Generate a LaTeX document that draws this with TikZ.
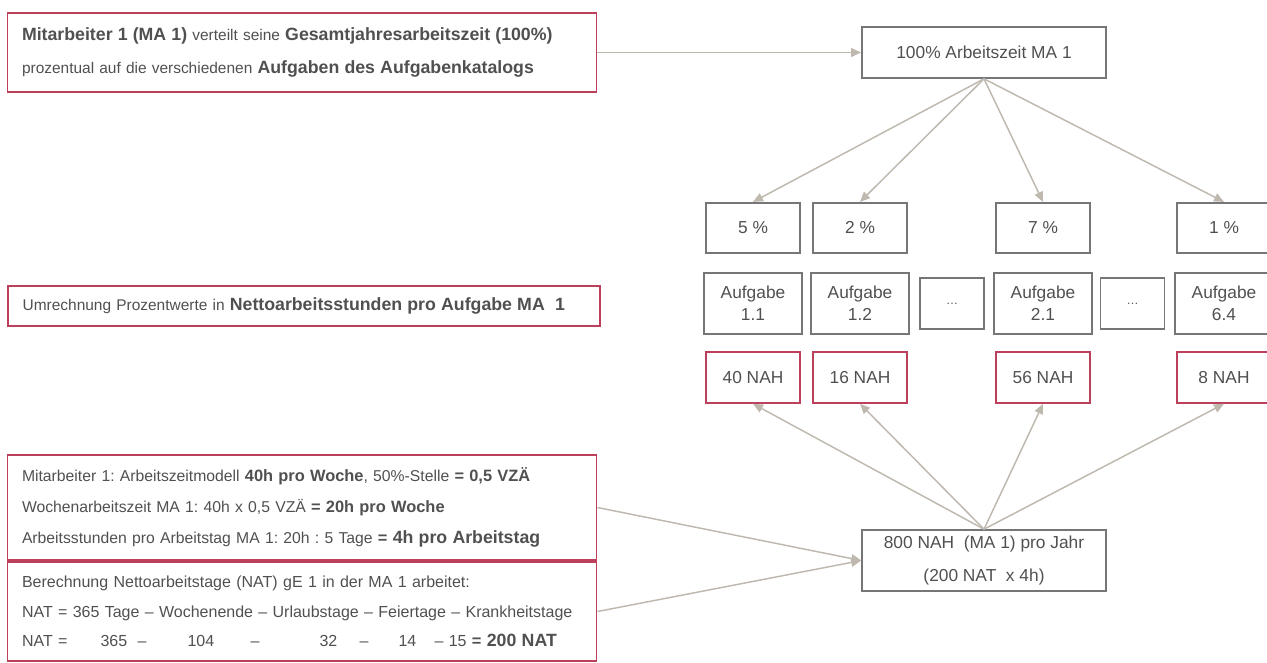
\documentclass[tikz,border=0pt]{standalone}
\usepackage{fontspec}
\setmainfont{Liberation Sans}
\usepackage{tikz}
\usetikzlibrary{arrows.meta,positioning}
\definecolor{boxred}{RGB}{188,64,92}
\definecolor{boxgray}{RGB}{118,118,118}
\definecolor{arrowgray}{RGB}{190,184,175}
\definecolor{textgray}{RGB}{80,80,80}
\newcommand{\bigbf}[1]{{\fontsize{13.3}{16}\selectfont\bfseries #1}}
\newcommand{\midbf}[1]{{\fontsize{12.3}{15}\selectfont\bfseries #1}}
\newcommand{\natcol}[2]{\makebox[#1][l]{#2}}
\frenchspacing

\begin{document}
\begin{tikzpicture}[
    x=0.75pt, y=-0.75pt,
    info/.style={draw=boxred, line width=1.2pt, text=textgray, align=left, inner xsep=11pt, text width=420pt},
    cell/.style={draw=boxgray, line width=1.2pt, text=textgray, font=\fontsize{13}{16.5}\selectfont, align=center, inner sep=0pt},
    nah/.style={cell, draw=boxred},
    link/.style={draw=arrowgray, line width=1.1pt, -{Triangle[length=7.5pt,width=6.5pt]}}
  ]
    \useasboundingbox (0,0) rectangle (1267,662);

    % left column
    \node[info, minimum height=59pt, font=\fontsize{11.6}{24.75}\selectfont] (verteilung) at (302,52.5)
      {\bigbf{Mitarbeiter 1 (MA 1)} verteilt seine \bigbf{Gesamtjahresarbeitszeit (100\%)}\\
       prozentual auf die verschiedenen \bigbf{Aufgaben des Aufgabenkatalogs}};
    \node[info, text width=422pt, minimum height=30pt, font=\fontsize{11.6}{14}\selectfont] (umrechnung) at (304,306)
      {Umrechnung Prozentwerte in \bigbf{Nettoarbeitsstunden pro Aufgabe MA\ \ 1}};
    \node[info, minimum height=78.75pt, font=\fontsize{11.8}{23.25}\selectfont] (modell) at (302,507.5)
      {Mitarbeiter 1: Arbeitszeitmodell \midbf{40h pro Woche}, 50\%-Stelle \midbf{= 0,5 VZÄ}\\
       Wochenarbeitszeit MA 1: 40h x 0,5 VZÄ \midbf{= 20h pro Woche}\\
       Arbeitsstunden pro Arbeitstag MA 1: 20h : 5 Tage \midbf{=} \bigbf{4h pro Arbeitstag}};
    \node[info, minimum height=74.25pt, font=\fontsize{12}{22}\selectfont] (nat) at (302,611.5)
      {Berechnung Nettoarbeitstage (NAT) gE 1 in der MA 1 arbeitet:\\
       NAT = 365 Tage -- Wochenende -- Urlaubstage -- Feiertage -- Krankheitstage\\
       \natcol{58.9pt}{NAT =}\natcol{27.75pt}{365}\natcol{37.5pt}{--}\natcol{47.25pt}{104}\natcol{51.75pt}{--}%
       \natcol{30pt}{32}\natcol{29.25pt}{--}\natcol{27pt}{14}-- 15 \midbf{=} \bigbf{200 NAT}};

    % right column
    \node[cell, minimum width=183pt, minimum height=38.25pt] (gesamt) at (984,52.5) {100\% Arbeitszeit MA 1};
    \node[cell, minimum width=183pt, minimum height=45.75pt, font=\fontsize{13}{24.75}\selectfont] (jahr) at (984,560.5)
      {800 NAH\ \ (MA 1) pro Jahr\\(200 NAT\ \ x 4h)};

    \foreach \n/\x/\p/\a/\h in {11/753/5/1.1/40, 12/860/2/1.2/16, 21/1043/7/2.1/56, 64/1224/1/6.4/8} {
      \node[cell, minimum width=70.5pt, minimum height=37.5pt] (p\n) at (\x,227.7) {\p\ \%};
      \node[cell, minimum width=73.5pt, minimum height=45.75pt] (a\n) at (\x,303.5) {Aufgabe\\\a};
      \node[nah, minimum width=70.5pt, minimum height=38.25pt] (h\n) at (\x,377.5) {\h\ NAH};
    }
    \node[cell, minimum width=48pt, minimum height=38.25pt, font=\small] (dots1) at (952,303.5) {\dots};
    \node[cell, minimum width=48pt, minimum height=38.25pt, font=\small] (dots2) at (1132.5,303.5) {\dots};

    % connectors
    \draw[link] (verteilung) -- (gesamt);
    \foreach \n in {11,12,21,64} {
      \draw[link] (gesamt.south) -- (p\n.north);
      \draw[link] (jahr.north) -- (h\n.south);
    }
    \draw[link] (modell.east) -- (jahr.west);
    \draw[link] (nat.east) -- (jahr.west);
\end{tikzpicture}
\end{document}
